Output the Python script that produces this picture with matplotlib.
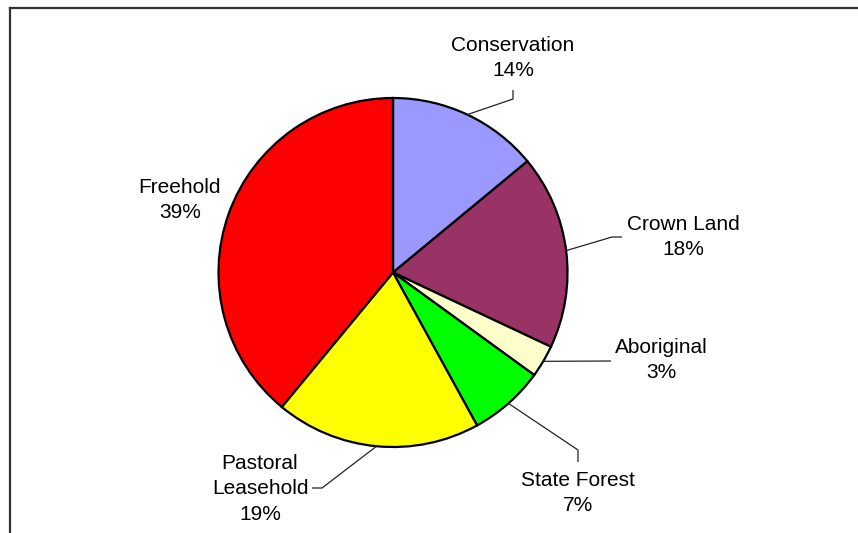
import matplotlib.pyplot as plt
import numpy as np

plt.rcParams['font.family'] = ['Liberation Sans', 'DejaVu Sans']

# land tenure shares (%)
labels = ['Conservation', 'Crown Land', 'Aboriginal', 'State Forest',
          'Pastoral\nLeasehold', 'Freehold']
shares = [14, 18, 3, 7, 19, 39]
colors = ['#9999FF', '#993366', '#FFFFCC', '#00FF00', '#FFFF00', '#FF0000']

W, H = 858, 533
fig = plt.figure(figsize=(W / 100, H / 100), dpi=100)
ax = fig.add_axes([0, 0, 1, 1])

cx, cy, r = 393, H - 272.5, 174.5
wedges, _ = ax.pie(shares, colors=colors, startangle=90, counterclock=False,
                   center=(cx, cy), radius=r, frame=True,
                   wedgeprops=dict(edgecolor='black', linewidth=1.6))
ax.set_xlim(0, W)
ax.set_ylim(0, H)
ax.set_aspect('equal')
ax.axis('off')

# label text centre and leader path (elbow points) for each slice
text_pos = [(513, 58), (683, 237), (661, 360), (578, 493), (260, 489), (180, 200)]
elbows = [[(513, 99), (513, 90)],
          [(612, 237), (622, 237)],
          [(611, 361)],
          [(578, 450), (578, 462)],
          [(322, 488), (312, 488)],
          []]

for w, lab, val, (tx, ty), pts in zip(wedges, labels, shares, text_pos, elbows):
    ang = np.deg2rad((w.theta1 + w.theta2) / 2)
    ex, ey = cx + r * np.cos(ang), cy + r * np.sin(ang)
    if pts:
        xs = [ex] + [p[0] for p in pts]
        ys = [ey] + [H - p[1] for p in pts]
        ax.plot(xs, ys, color='#222222', lw=0.9, solid_capstyle='butt')
    ax.text(tx, H - ty, f'{lab}\n{val}%', ha='center', va='center',
            fontsize=15, linespacing=1.45, color='black')

# outer frame (top and left edges)
ax.plot([10, W], [H - 7.5, H - 7.5], color='#333333', lw=1.6, clip_on=False)
ax.plot([10, 10], [H - 7.5, 0], color='#333333', lw=1.6, clip_on=False)

fig.savefig('out.png', dpi=100)
